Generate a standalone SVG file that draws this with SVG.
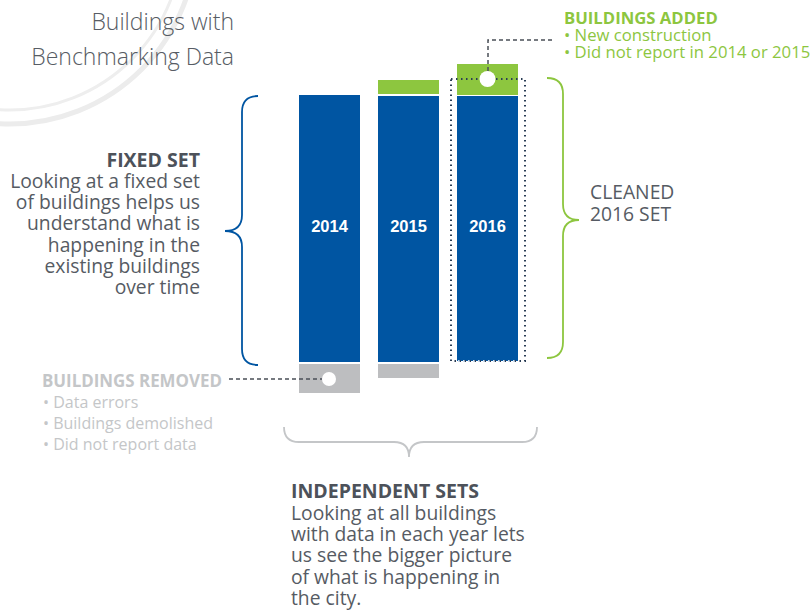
<svg xmlns="http://www.w3.org/2000/svg" width="810" height="610" viewBox="0 0 810 610">
<style>
  .t { font-family: "Open Sans", "Noto Sans", "Liberation Sans", sans-serif; }
  .title { font-size: 23px; fill: #575c64; font-weight: 300; }
  .head { font-size: 19.5px; font-weight: bold; fill: #4d525a; }
  .body { font-size: 19.3px; fill: #565b63; }
  .green { fill: #8dc63f; }
  .grey { fill: #c4c6c8; }
  .yr { font-family: "Liberation Sans", Arial, sans-serif; font-size: 16.5px; font-weight: bold; fill: #ffffff; }
  .blue { fill: #0055a2; }
  .gbar { fill: #8dc63f; }
  .sbar { fill: #bdbec0; }
  .dash { fill: none; stroke: #4a4f57; stroke-width: 1.5; stroke-dasharray: 4 3; }
  .brace { fill: none; stroke-width: 1.8; }
</style>
<g id="background">
  <circle cx="9.5" cy="-63" r="173" fill="none" stroke="#eeeeee" stroke-width="3"/>
  <circle cx="9.5" cy="-63" r="187" fill="none" stroke="#ececec" stroke-width="5"/>
</g>
<g id="title" class="t title" text-anchor="end">
  <text x="234" y="30">Buildings with</text>
  <text x="234" y="65">Benchmarking Data</text>
</g>
<g id="bar2014">
  <rect class="blue" x="299" y="95" width="61" height="267"/>
  <rect class="sbar" x="299" y="364" width="61" height="29"/>
  <text class="yr" x="329.5" y="232" text-anchor="middle">2014</text>
</g>
<g id="bar2015">
  <rect class="gbar" x="378" y="80" width="61" height="14"/>
  <rect class="blue" x="378" y="96" width="61" height="266"/>
  <rect class="sbar" x="378" y="364" width="61" height="14"/>
  <text class="yr" x="408.5" y="232" text-anchor="middle">2015</text>
</g>
<g id="bar2016">
  <rect class="gbar" x="457" y="64" width="61" height="31"/>
  <rect class="blue" x="457" y="96" width="61" height="265"/>
  <text class="yr" x="487.5" y="232" text-anchor="middle">2016</text>
  <rect x="451" y="79" width="74" height="282" fill="none" stroke="#2a3d55" stroke-width="2" stroke-dasharray="1.5 3.5"/>
  <line x1="458" y1="361" x2="518" y2="361" stroke="#cfe0f2" stroke-width="2" stroke-dasharray="1.5 3.5"/>
</g>
<g id="connectors">
  <path class="dash" d="M488,71 L488,40 L552,40"/>
  <path class="dash" d="M229,379 L322,379"/>
  <circle cx="487.5" cy="79" r="8" fill="#ffffff"/>
  <circle cx="329" cy="379" r="7" fill="#ffffff"/>
  <path class="brace" stroke="#0055a2" d="M258,96 Q242,96 242,112 L242,215 Q242,231 225,231 Q242,231 242,247 L242,349 Q242,365 258,365"/>
  <path class="brace" stroke="#8dc63f" d="M547,78 Q563,78 563,94 L563,204 Q563,220 579,220 Q563,220 563,236 L563,342 Q563,358 547,358"/>
  <path class="brace" stroke="#c4c6c8" stroke-width="1.5" d="M284,427 Q284,442 299,442 L394,442 Q409,442 409,457 Q409,442 424,442 L522,442 Q537,442 537,427"/>
</g>
<g id="added" class="t">
  <text class="green" x="564" y="24" font-size="16.7" font-weight="bold">BUILDINGS ADDED</text>
  <text class="green" x="564" y="41" font-size="16.7">• New construction</text>
  <text class="green" x="564" y="58" font-size="16.7">• Did not report in 2014 or 2015</text>
</g>
<g id="removed" class="t">
  <text class="grey" x="42" y="387" font-size="16.9" font-weight="bold">BUILDINGS REMOVED</text>
  <text class="grey" x="43" y="408" font-size="16">• Data errors</text>
  <text class="grey" x="43" y="429" font-size="16">• Buildings demolished</text>
  <text class="grey" x="43" y="450" font-size="16">• Did not report data</text>
</g>
<g id="fixed" class="t" text-anchor="end">
  <text class="head" x="200" y="167">FIXED SET</text>
  <text class="body" x="200" y="188">Looking at a fixed set</text>
  <text class="body" x="200" y="209">of buildings helps us</text>
  <text class="body" x="200" y="230">understand what is</text>
  <text class="body" x="200" y="252">happening in the</text>
  <text class="body" x="200" y="273">existing buildings</text>
  <text class="body" x="200" y="294">over time</text>
</g>
<g id="cleaned" class="t">
  <text class="body" x="590" y="199">CLEANED</text>
  <text class="body" x="590" y="221">2016 SET</text>
</g>
<g id="independent" class="t">
  <text class="head" x="291" y="498">INDEPENDENT SETS</text>
  <text class="body" x="291" y="520">Looking at all buildings</text>
  <text class="body" x="291" y="541">with data in each year lets</text>
  <text class="body" x="291" y="562">us see the bigger picture</text>
  <text class="body" x="291" y="584">of what is happening in</text>
  <text class="body" x="291" y="605">the city.</text>
</g>
</svg>
